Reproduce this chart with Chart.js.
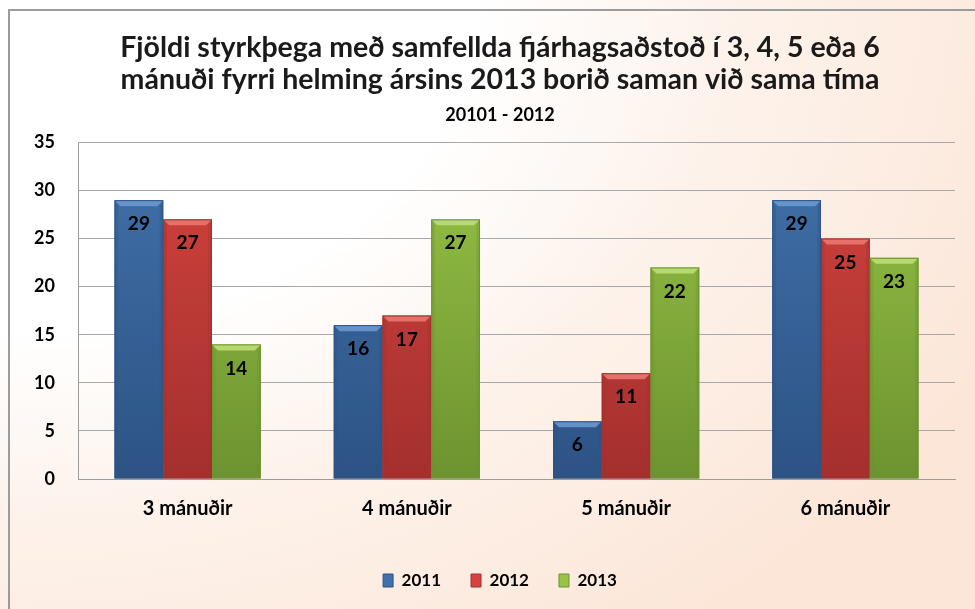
<!DOCTYPE html>
<html><head><meta charset="utf-8">
<script src="https://cdn.jsdelivr.net/npm/chart.js@4.4.1/dist/chart.umd.min.js"></script>
<style>
html,body{margin:0;padding:0;width:975px;height:609px;overflow:hidden;}
body{background: radial-gradient(ellipse 115% 130% at 0% 0%, #ffffff 42%, #fdf3ec 64%, #fce6d8 100%);}
#frame{position:absolute;left:8px;top:9px;width:970px;height:610px;border-left:2px solid #9c9c9c;border-top:2px solid #9c9c9c;}
#wrap{position:absolute;left:0;top:0;width:975px;height:609px;}
</style></head>
<body><div id="frame"></div><div id="wrap"><canvas id="c" width="975" height="609"></canvas></div>
<script>
const categories = ['3 mánuðir', '4 mánuðir', '5 mánuðir', '6 mánuðir'];
const values2011 = [29, 16, 6, 29];
const values2012 = [27, 17, 11, 25];
const values2013 = [14, 27, 22, 23];
const seriesNames = ['2011', '2012', '2013'];
const titleLines = ['Fjöldi styrkþega með samfellda fjárhagsaðstoð í 3, 4, 5 eða 6', 'mánuði fyrri helming ársins 2013 borið saman við sama tíma'];
const subtitleText = '20101 - 2012';

const FONT = 'Lato, "Open Sans", sans-serif';
const palette = [
  {base:'#4171aa', dark:'#2d5384', light:'#6f9ad3'},
  {base:'#d3433f', dark:'#a3302d', light:'#ec7a73'},
  {base:'#97c346', dark:'#6c9330', light:'#bfe079'}
];

function vgrad(ctx, area, p){
  if(!area) return p.base;
  const g = ctx.createLinearGradient(0, area.top, 0, area.bottom);
  g.addColorStop(0, p.base);
  g.addColorStop(1, p.dark);
  return g;
}

const bevelPlugin = {
  id:'bevel',
  afterDatasetsDraw(chart){
    const ctx = chart.ctx;
    chart.data.datasets.forEach((ds, di) => {
      const meta = chart.getDatasetMeta(di);
      const p = palette[di];
      meta.data.forEach((bar, i) => {
        const w = bar.width, l = bar.x - w/2, r = bar.x + w/2, t = bar.y, b = bar.base;
        const bv = 6;
        ctx.save();
        ctx.beginPath();
        ctx.moveTo(l, t); ctx.lineTo(r, t); ctx.lineTo(r - bv, t + bv); ctx.lineTo(l + bv, t + bv); ctx.closePath();
        ctx.fillStyle = p.light; ctx.globalAlpha = 0.85; ctx.fill();
        ctx.globalAlpha = 0.35;
        ctx.fillStyle = p.dark;
        ctx.beginPath();
        ctx.moveTo(l, t); ctx.lineTo(l + bv*0.6, t + bv); ctx.lineTo(l + bv*0.6, b - bv*0.6); ctx.lineTo(l, b); ctx.closePath(); ctx.fill();
        ctx.beginPath();
        ctx.moveTo(r, t); ctx.lineTo(r - bv*0.6, t + bv); ctx.lineTo(r - bv*0.6, b - bv*0.6); ctx.lineTo(r, b); ctx.closePath(); ctx.fill();
        ctx.globalAlpha = 1;
        ctx.strokeStyle = p.dark; ctx.lineWidth = 1;
        ctx.strokeRect(l + 0.5, t + 0.5, w - 1, b - t - 1);
        ctx.fillStyle = '#000';
        ctx.font = 'bold 19px ' + FONT;
        ctx.textAlign = 'center'; ctx.textBaseline = 'middle';
        ctx.fillText(String(ds.data[i]), bar.x, t + 24);
        ctx.restore();
      });
    });
  }
};

const datasets = [values2011, values2012, values2013].map((vals, di) => ({
  label: seriesNames[di],
  data: vals,
  backgroundColor: (c) => vgrad(c.chart.ctx, c.chart.chartArea, palette[di]),
  borderWidth: 0,
  categoryPercentage: 0.667,
  barPercentage: 1.0
}));

new Chart(document.getElementById('c'), {
  type: 'bar',
  data: { labels: categories, datasets },
  plugins: [bevelPlugin],
  options: {
    responsive: false,
    animation: false,
    devicePixelRatio: 1,
    layout: { padding: { left: 45, right: 20, top: 0, bottom: 10 } },
    plugins: {
      tooltip: { enabled: false },
      title: {
        display: true, text: titleLines, color: '#1a1a1a',
        font: { family: FONT, size: 28.5, weight: 'bold', lineHeight: 1.12 },
        padding: { top: 32, bottom: 2 }
      },
      subtitle: {
        display: true, text: subtitleText, color: '#000',
        font: { family: FONT, size: 18, weight: 'bold', lineHeight: 1.2 },
        padding: { top: 7, bottom: 16 }
      },
      legend: {
        position: 'bottom',
        labels: {
          boxWidth: 10, boxHeight: 13, padding: 30, color: '#000',
          font: { family: FONT, size: 17, weight: 'bold' },
          generateLabels: (chart) => chart.data.datasets.map((d, i) => ({
            text: d.label, fillStyle: palette[i].base, strokeStyle: palette[i].dark,
            lineWidth: 1, datasetIndex: i, hidden: false
          }))
        }
      }
    },
    scales: {
      x: {
        grid: { display: false },
        border: { display: true, color: '#9c9c9c' },
        ticks: { color: '#000', padding: 10, font: { family: FONT, size: 20, weight: 'bold' } },
        afterFit: (s) => { s.height = 63; }
      },
      y: {
        min: 0, max: 35,
        grid: { color: '#a8a8a8', drawTicks: false },
        border: { display: true, color: '#9c9c9c' },
        ticks: { stepSize: 5, color: '#000', padding: 23, font: { family: FONT, size: 18, weight: 'bold' } },
        afterFit: (s) => { s.width = 33; s._computeLabelArea = () => undefined; }
      }
    }
  }
});
</script>
</body></html>
